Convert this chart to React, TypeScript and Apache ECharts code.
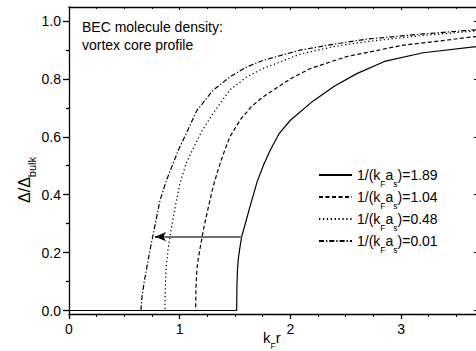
import React, { useEffect, useRef } from 'react';
import * as echarts from 'echarts';

const FONT = '"Liberation Sans", Arial, Helvetica, sans-serif';

// Axis ranges and tick values
const xRange = [0, 3.686];
const yRange = [-0.012, 1.048];
const yMajorTicks = [0, 0.2, 0.4, 0.6, 0.8, 1.0];
const yMinorTicks = [0.1, 0.3, 0.5, 0.7, 0.9];

// Series names (value of 1/(kF as))
const seriesNames = ['1.89', '1.04', '0.48', '0.01'];

// Curves: [kF r, Δ/Δbulk]
const curve189 = [
  [0, 0], [1.515, 0], [1.517, 0.08], [1.522, 0.14], [1.53, 0.18], [1.545, 0.22],
  [1.56, 0.255], [1.6, 0.31], [1.635, 0.359], [1.7, 0.445], [1.76, 0.505],
  [1.82, 0.555], [1.9, 0.612], [2.0, 0.657], [2.2, 0.722], [2.4, 0.775],
  [2.6, 0.818], [2.85, 0.86], [3.2, 0.89], [3.7, 0.912],
];
const curve104 = [
  [0, 0], [1.144, 0], [1.147, 0.08], [1.155, 0.14], [1.168, 0.18], [1.183, 0.212],
  [1.22, 0.29], [1.274, 0.382], [1.304, 0.43], [1.35, 0.49], [1.394, 0.54],
  [1.454, 0.6], [1.55, 0.66], [1.65, 0.705], [1.755, 0.738], [2.0, 0.80],
  [2.177, 0.835], [2.5, 0.876], [3.0, 0.915], [3.7, 0.947],
];
const curve048 = [
  [0, 0], [0.867, 0], [0.87, 0.08], [0.878, 0.15], [0.895, 0.21], [0.912, 0.255],
  [0.95, 0.34], [1.003, 0.44], [1.06, 0.51], [1.123, 0.56], [1.2, 0.62],
  [1.3, 0.68], [1.454, 0.762], [1.6, 0.805], [1.755, 0.836], [2.087, 0.885],
  [2.4, 0.912], [2.7, 0.929], [3.2, 0.95], [3.7, 0.966],
];
const curve001 = [
  [0, 0], [0.65, 0], [0.66, 0.05], [0.68, 0.1], [0.732, 0.209], [0.78, 0.30],
  [0.822, 0.38], [0.852, 0.416], [0.882, 0.451], [0.988, 0.554], [1.07, 0.62],
  [1.154, 0.69], [1.3, 0.76], [1.454, 0.807], [1.6, 0.84], [1.755, 0.864],
  [2.087, 0.899], [2.4, 0.92], [2.689, 0.937], [3.2, 0.955], [3.7, 0.97],
];
const curves = [curve189, curve104, curve048, curve001];

// Dash patterns for the four curves
const dashTypes: any[] = ['solid', [4, 2.5], [1.3, 2.6], [5, 2, 1.3, 2]];

// Arrow annotation (from solid curve towards lower 1/(kF as))
const arrowFrom = [1.56, 0.255];
const arrowHeadBase = [0.86, 0.255];
const arrowTo = [0.777, 0.255];

const legendTops = [168, 190, 212, 234];

export default function App() {
  const ref = useRef<HTMLDivElement>(null);

  useEffect(() => {
    if (!ref.current) return;
    const chart = echarts.init(ref.current, null, { renderer: 'svg' });
    const axisLineStyle = { color: '#000', width: 1.3 };

    const series: any[] = curves.map((data, i) => ({
      type: 'line',
      name: seriesNames[i],
      data,
      symbol: 'none',
      showSymbol: false,
      xAxisIndex: 0,
      yAxisIndex: 0,
      lineStyle: { color: '#000', width: 1.2, type: dashTypes[i] },
      itemStyle: { color: '#000' },
      z: 3,
      ...(i === 0
        ? {
            markLine: {
              silent: true,
              symbol: ['none', 'arrow'],
              symbolSize: [8, 8],
              label: { show: false },
              lineStyle: { color: '#707070', width: 2, type: 'solid' },
              data: [
                [{ coord: arrowFrom, symbol: 'none' }, { coord: arrowHeadBase, symbol: 'none' }],
                [
                  { coord: arrowHeadBase, symbol: 'none', lineStyle: { color: '#000', width: 1.5 } },
                  { coord: arrowTo, symbol: 'arrow', symbolSize: [7, 11] },
                ],
              ],
              z: 5,
            },
          }
        : {}),
    }));

    const legendRich = {
      m: { fontSize: 14, fontFamily: FONT, color: '#000', lineHeight: 26, verticalAlign: 'middle' },
      s: { fontSize: 8.5, fontFamily: FONT, color: '#000', lineHeight: 10, verticalAlign: 'bottom' },
    };

    const legends = seriesNames.map((n, i) => ({
      data: [n],
      orient: 'vertical',
      left: 318,
      top: legendTops[i],
      padding: 0,
      itemWidth: 33,
      itemHeight: 14,
      selectedMode: false,
      itemStyle: { opacity: 0 },
      formatter: (name: string) => `{m|1/(k}{s|F}{m|a}{s|s}{m|)=${name}}`,
      textStyle: { fontFamily: FONT, fontSize: 14, color: '#000', rich: legendRich },
    }));

    chart.setOption({
      animation: false,
      backgroundColor: '#fff',
      grid: { left: 69, top: 7, width: 408, height: 307, containLabel: false, outerBoundsMode: 'none' },
      legend: legends,
      xAxis: [
        {
          type: 'value', min: xRange[0], max: xRange[1], interval: 1, position: 'bottom',
          axisLine: { show: true, onZero: false, lineStyle: axisLineStyle },
          axisTick: { show: true, inside: false, length: 5, lineStyle: axisLineStyle },
          minorTick: { show: true, splitNumber: 4, length: 3, lineStyle: { color: '#000', width: 1 } },
          axisLabel: { fontFamily: FONT, fontSize: 14, color: '#000', margin: 8, showMaxLabel: false },
          splitLine: { show: false },
          minorSplitLine: { show: false },
        },
        {
          type: 'value', min: xRange[0], max: xRange[1], interval: 1, position: 'top',
          axisLine: { show: true, onZero: false, lineStyle: axisLineStyle },
          axisTick: { show: true, inside: true, length: 3, lineStyle: { color: '#000', width: 1 } },
          minorTick: { show: true, splitNumber: 4, length: 2, lineStyle: { color: '#000', width: 1 } },
          axisLabel: { show: false },
          splitLine: { show: false },
        },
      ],
      yAxis: [
        {
          type: 'value', min: yRange[0], max: yRange[1], position: 'left',
          axisLine: { show: true, onZero: false, lineStyle: axisLineStyle },
          axisTick: { show: true, inside: false, length: 6, customValues: yMajorTicks, lineStyle: axisLineStyle },
          axisLabel: {
            fontFamily: FONT, fontSize: 14, color: '#000', margin: 8,
            customValues: yMajorTicks,
            formatter: (v: number) => v.toFixed(1),
          },
          splitLine: { show: false },
        },
        {
          type: 'value', min: yRange[0], max: yRange[1], position: 'left',
          axisLine: { show: false },
          axisTick: { show: true, inside: false, length: 3, customValues: yMinorTicks, lineStyle: { color: '#000', width: 1.3 } },
          axisLabel: { show: false },
          splitLine: { show: false },
        },
        {
          type: 'value', min: yRange[0], max: yRange[1], position: 'right',
          axisLine: { show: true, onZero: false, lineStyle: axisLineStyle },
          axisTick: { show: true, inside: true, length: 3, customValues: yMajorTicks, lineStyle: { color: '#000', width: 1 } },
          axisLabel: { show: false },
          splitLine: { show: false },
        },
      ],
      graphic: [
        {
          type: 'text', left: 82, top: 17.5, z: 10,
          style: {
            text: 'BEC molecule density:\nvortex core profile',
            fontFamily: FONT, fontSize: 14, lineHeight: 18.3, fill: '#000',
          },
        },
        {
          type: 'text', x: 263, y: 324, z: 10,
          style: {
            text: '{m|k}{s|F}{m|r}',
            align: 'left', verticalAlign: 'top',
            rich: {
              m: { fontSize: 15, fontFamily: FONT, fill: '#000', lineHeight: 26, verticalAlign: 'middle' },
              s: { fontSize: 8.5, fontFamily: FONT, fill: '#000', lineHeight: 10, verticalAlign: 'bottom' },
            },
          },
        },
        {
          type: 'text', x: 24, y: 180, rotation: Math.PI / 2, z: 10,
          style: {
            text: '{m|Δ/Δ}{s|bulk}',
            align: 'center', verticalAlign: 'middle',
            rich: {
              m: { fontSize: 16, fontFamily: FONT, fill: '#000', lineHeight: 26, verticalAlign: 'middle' },
              s: { fontSize: 11, fontFamily: FONT, fill: '#000', lineHeight: 12, verticalAlign: 'bottom' },
            },
          },
        },
      ],
      series,
    });

    return () => chart.dispose();
  }, []);

  return (
    <div
      ref={ref}
      style={{ position: 'fixed', left: 0, top: 0, width: 476, height: 351, background: '#fff' }}
    />
  );
}
